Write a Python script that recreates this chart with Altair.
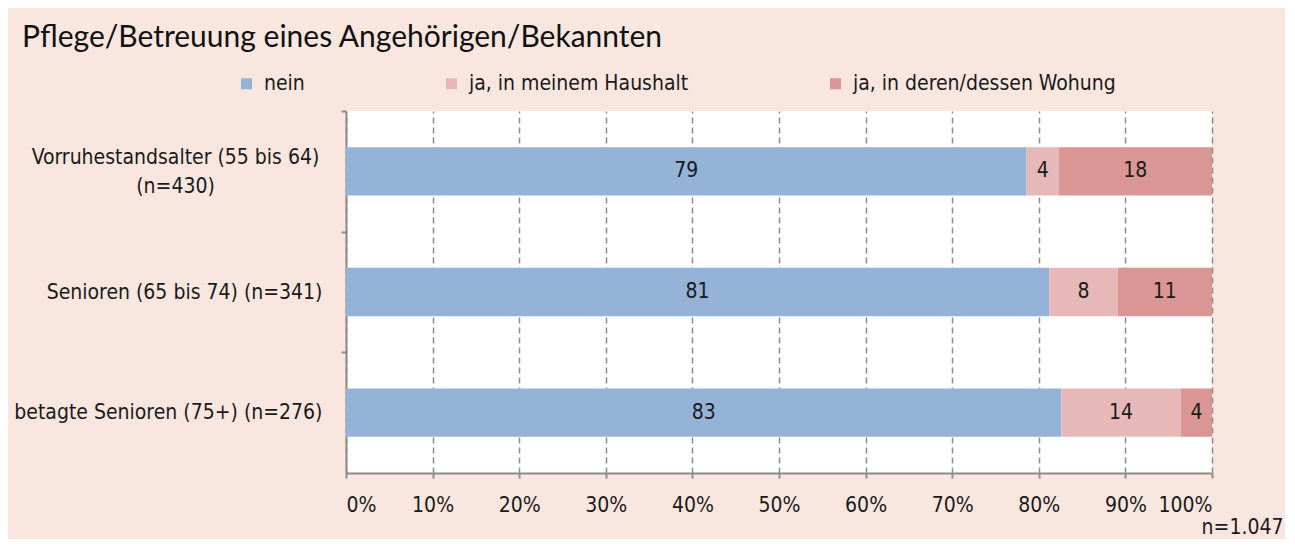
import altair as alt
import pandas as pd

# ---- data ----
cat_line1 = ["Vorruhestandsalter (55 bis 64)", "Senioren (65 bis 74) (n=341)", "betagte Senioren (75+) (n=276)"]
cat_line2 = ["(n=430)", "", ""]
series = ["nein", "ja, in meinem Haushalt", "ja, in deren/dessen Wohung"]
colors = ["#95B3D7", "#E6B9B8", "#D99694"]
nein = [78.6, 81.2, 82.6]
haushalt = [3.7, 7.9, 13.8]
wohnung = [17.7, 10.9, 3.6]
lab_nein = ["79", "81", "83"]
lab_haushalt = ["4", "8", "14"]
lab_wohnung = ["18", "11", "4"]
tick_values = [0, 10, 20, 30, 40, 50, 60, 70, 80, 90, 100]
title_text = "Pflege/Betreuung eines Angehörigen/Bekannten"
note_text = "n=1.047"

cats = []
for a, b in zip(cat_line1, cat_line2):
    cats.append(a + ("|" + b if b else ""))

rows = []
for i, c in enumerate(cats):
    for j, (vals, labs) in enumerate([(nein, lab_nein), (haushalt, lab_haushalt), (wohnung, lab_wohnung)]):
        rows.append({"cat": c, "series": series[j], "order": j, "value": vals[i], "label": labs[i]})
df = pd.DataFrame(rows)

FONT = ("Liberation Sans Narrow, DejaVu Sans Condensed, Roboto Condensed, Open Sans Condensed, "
        "Noto Sans Condensed, Arial Narrow, Roboto, sans-serif")
FW = 300
FS = 21
TXT = "#1a1a1a"
GREY = "#8c8c8c"

PLOT_H = 362
STEP = PLOT_H / 3
HALF_GAP = 0.3 * STEP
MULTI = "indexof(datum.value, '|') >= 0"

base = alt.Chart(df).transform_stack(
    stack="value", as_=["v0", "v1"], groupby=["cat"], sort=[alt.SortField("order")]
).transform_calculate(mid="(datum.v0 + datum.v1) / 2")

y_enc = alt.Y(
    "cat:N", sort=cats,
    scale=alt.Scale(paddingInner=0.6, paddingOuter=0.3),
    axis=alt.Axis(
        title=None, bandPosition=0, tickOffset=-HALF_GAP, labelOffset=HALF_GAP,
        labelExpr="split(datum.label, '|')",
        labelFont=FONT, labelFontSize=FS, labelFontWeight=FW, labelColor=TXT,
        labelPadding={"condition": {"test": MULTI, "value": 166}, "value": 19},
        labelAlign={"condition": {"test": MULTI, "value": "center"}, "value": "right"},
        labelBaseline={"condition": {"test": MULTI, "value": "line-bottom"}, "value": "middle"},
        labelLineHeight=29, labelLimit=500, tickSize=5, tickColor=GREY, tickWidth=2,
        domainColor=GREY, domainWidth=2, grid=False,
    ),
)

bars = base.mark_bar().encode(
    x=alt.X(
        "v0:Q", scale=alt.Scale(domain=[0, 100], nice=False),
        axis=alt.Axis(
            values=tick_values, labelExpr="datum.value + '%'", grid=True,
            gridDash=[6, 4], gridColor=GREY, gridWidth=1.5,
            tickSize=5, tickColor=GREY, tickWidth=2, domainColor=GREY, domainWidth=2,
            labelFont=FONT, labelFontSize=FS, labelFontWeight=FW, labelColor=TXT, labelPadding=16,
            title=note_text, titleAnchor="end", titleAlign="right", titleX=937, titleY=60,
            titleFont=FONT, titleFontSize=FS, titleFontWeight=FW, titleColor=TXT,
            titleBaseline="alphabetic",
        ),
    ),
    x2="v1:Q",
    y=y_enc,
    color=alt.Color(
        "series:N", scale=alt.Scale(domain=series, range=colors),
        legend=alt.Legend(
            title=None, orient="none", legendX=-110, legendY=-38, direction="horizontal",
            columns=3, columnPadding=136, symbolType="square", symbolSize=121,
            symbolStrokeWidth=0, symbolOpacity=1, labelFont=FONT, labelFontSize=FS,
            labelFontWeight=FW, labelColor=TXT, labelOffset=7, labelLimit=500, padding=0,
        ),
    ),
)

texts = base.mark_text(font=FONT, fontSize=FS, fontWeight=FW, color=TXT).encode(
    x="mid:Q", y=alt.Y("cat:N", sort=cats), text="label:N"
)

chart = alt.layer(bars, texts).properties(
    width=866, height=PLOT_H,
    autosize=alt.AutoSizeParams(type="none"),
    padding={"left": 338, "top": 103, "right": 73, "bottom": 66},
    background="#F9E7DF",
    title=alt.TitleParams(
        title_text, font="Lato, Noto Sans, sans-serif", fontSize=30, fontWeight="normal",
        color="#111111", anchor="start", frame="group", dx=-324, offset=20,
    ),
).configure_view(fill="white", strokeWidth=0)

chart.save("out.html", embed_options={"renderer": "svg", "actions": False})
